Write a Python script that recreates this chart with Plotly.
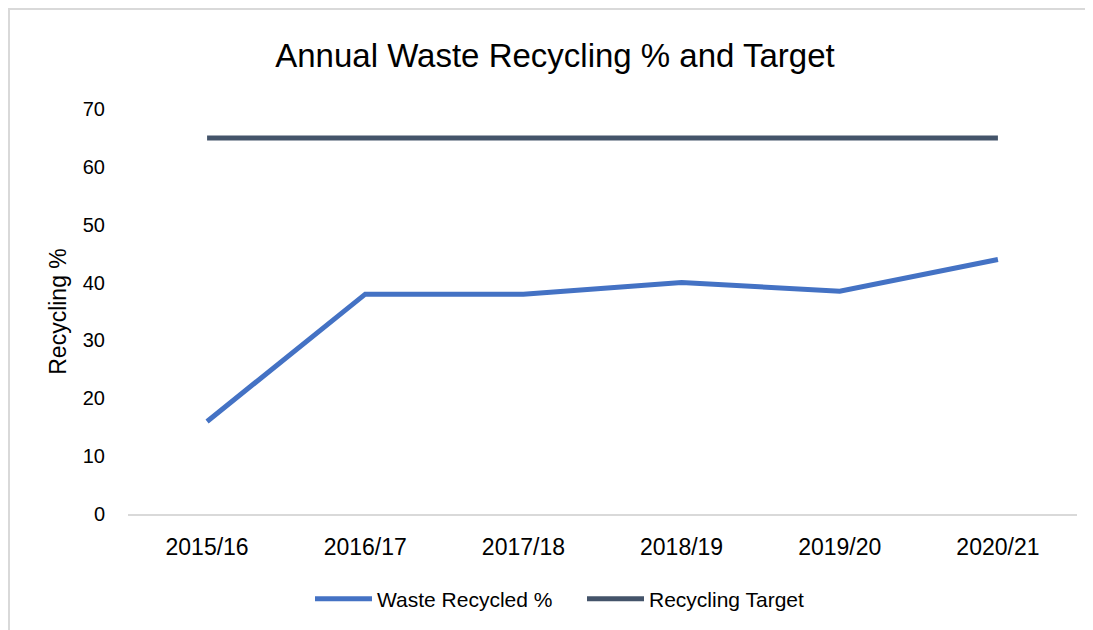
import plotly.graph_objects as go

years = ["2015/16", "2016/17", "2017/18", "2018/19", "2019/20", "2020/21"]
waste_recycled = [16, 38, 38, 40, 38.5, 44]
recycling_target = [65, 65, 65, 65, 65, 65]
y_ticks = [0, 10, 20, 30, 40, 50, 60, 70]

FONT = "Liberation Sans, Arial, sans-serif"

fig = go.Figure()
fig.add_trace(go.Scatter(x=years, y=waste_recycled, mode="lines", name="Waste Recycled %",
                         line=dict(color="#4472C4", width=5)))
fig.add_trace(go.Scatter(x=years, y=recycling_target, mode="lines", name="Recycling Target",
                         line=dict(color="#44546A", width=5)))

OFF = 8  # page offset
W, H = 1093, 630
L, R, T, B = 128 - OFF, 16 + OFF, 109 - OFF, 116 + OFF
pw, ph = W - L - R, H - T - B

fig.update_layout(
    width=W, height=H,
    margin=dict(l=L, r=R, t=T, b=B),
    paper_bgcolor="white", plot_bgcolor="white",
    font=dict(family=FONT, color="#000000"),
    title=dict(text="Annual Waste Recycling % and Target", x=(555 - OFF) / W, xanchor="center",
               y=1 - (55 - OFF) / H, yanchor="middle", font=dict(size=33, color="#000000")),
    xaxis=dict(range=[-0.5, 5.5], showgrid=False, showline=True, linecolor="#d9d9d9", linewidth=2,
               ticks="", tickfont=dict(size=23), ticklabelstandoff=11, zeroline=False),
    yaxis=dict(range=[0, 70], tickvals=y_ticks, showgrid=False, showline=False, zeroline=False,
               ticks="", tickfont=dict(size=20), ticklabelstandoff=22,
               title=dict(text="Recycling %", font=dict(size=23), standoff=9)),
    legend=dict(orientation="h", x=(582 - 128) / pw, xanchor="center", y=(514 - 599) / ph,
                yanchor="middle", font=dict(size=21), itemwidth=57,
                entrywidth=200, entrywidthmode="pixels", bgcolor="rgba(0,0,0,0)"),
    showlegend=True,
    shapes=[dict(type="rect", xref="paper", yref="paper",
                 x0=(9 - 128) / pw, x1=(1110 - 128) / pw,
                 y0=(514 - 650) / ph, y1=(514 - 9) / ph,
                 line=dict(color="#d9d9d9", width=2), fillcolor="rgba(0,0,0,0)", layer="below")],
)

fig.write_html("out.html")
